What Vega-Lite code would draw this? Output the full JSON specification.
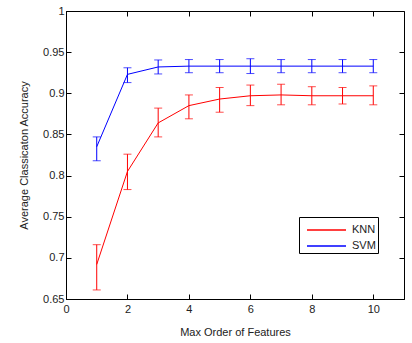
{
  "$schema": "https://vega.github.io/schema/vega-lite/v6.json",
  "width": 338,
  "height": 288,
  "autosize": {"type": "none"},
  "padding": {"left": 66, "top": 11, "right": 8, "bottom": 44},
  "background": "white",
  "config": {
    "view": {"stroke": "black", "strokeWidth": 1},
    "font": "Liberation Sans",
    "axis": {
      "labelFont": "Liberation Sans",
      "titleFont": "Liberation Sans",
      "labelFontSize": 11,
      "titleFontSize": 11,
      "titleFontWeight": "normal",
      "labelColor": "#222",
      "titleColor": "#222",
      "domainColor": "black",
      "tickColor": "black",
      "grid": false
    },
    "legend": {
      "labelFont": "Liberation Sans",
      "labelFontSize": 11,
      "labelColor": "#222"
    }
  },
  "data": {
    "values": [
      {"x": 1, "model": "KNN", "acc": 0.692, "lo": 0.661, "hi": 0.716},
      {"x": 2, "model": "KNN", "acc": 0.805, "lo": 0.783, "hi": 0.826},
      {"x": 3, "model": "KNN", "acc": 0.864, "lo": 0.847, "hi": 0.882},
      {"x": 4, "model": "KNN", "acc": 0.885, "lo": 0.869, "hi": 0.898},
      {"x": 5, "model": "KNN", "acc": 0.893, "lo": 0.877, "hi": 0.907},
      {"x": 6, "model": "KNN", "acc": 0.897, "lo": 0.885, "hi": 0.910},
      {"x": 7, "model": "KNN", "acc": 0.898, "lo": 0.886, "hi": 0.911},
      {"x": 8, "model": "KNN", "acc": 0.897, "lo": 0.886, "hi": 0.908},
      {"x": 9, "model": "KNN", "acc": 0.897, "lo": 0.887, "hi": 0.907},
      {"x": 10, "model": "KNN", "acc": 0.897, "lo": 0.886, "hi": 0.909},
      {"x": 1, "model": "SVM", "acc": 0.835, "lo": 0.818, "hi": 0.847},
      {"x": 2, "model": "SVM", "acc": 0.923, "lo": 0.913, "hi": 0.931},
      {"x": 3, "model": "SVM", "acc": 0.932, "lo": 0.9235, "hi": 0.9405},
      {"x": 4, "model": "SVM", "acc": 0.933, "lo": 0.925, "hi": 0.941},
      {"x": 5, "model": "SVM", "acc": 0.933, "lo": 0.925, "hi": 0.941},
      {"x": 6, "model": "SVM", "acc": 0.933, "lo": 0.924, "hi": 0.942},
      {"x": 7, "model": "SVM", "acc": 0.933, "lo": 0.925, "hi": 0.941},
      {"x": 8, "model": "SVM", "acc": 0.933, "lo": 0.925, "hi": 0.941},
      {"x": 9, "model": "SVM", "acc": 0.933, "lo": 0.925, "hi": 0.941},
      {"x": 10, "model": "SVM", "acc": 0.933, "lo": 0.925, "hi": 0.941}
    ]
  },
  "resolve": {"axis": {"x": "independent", "y": "independent"}},
  "layer": [
    {
      "mark": {"type": "line", "strokeWidth": 1},
      "encoding": {
        "x": {
          "field": "x", "type": "quantitative",
          "scale": {"domain": [0, 11], "nice": false, "zero": false},
          "axis": {"title": "Max Order of Features", "values": [0, 2, 4, 6, 8, 10], "tickSize": -5, "labelPadding": 9, "titlePadding": 12, "labelFlush": false}
        },
        "y": {
          "field": "acc", "type": "quantitative",
          "scale": {"domain": [0.65, 1], "nice": false, "zero": false},
          "axis": {"title": "Average Classicaton Accuracy", "values": [0.65, 0.7, 0.75, 0.8, 0.85, 0.9, 0.95, 1], "format": "~g", "tickSize": -5, "labelPadding": 7, "titlePadding": 13, "labelFlush": false}
        },
        "color": {
          "field": "model", "type": "nominal",
          "scale": {"domain": ["KNN", "SVM"], "range": ["#ff0000", "#0000ff"]},
          "legend": {
            "title": null,
            "orient": "none",
            "legendX": 233,
            "legendY": 206,
            "symbolType": "M-0.5,0H3.4",
            "symbolSize": 400,
            "symbolStrokeWidth": 1.5,
            "strokeColor": "black",
            "fillColor": "white",
            "padding": 2,
            "rowPadding": 0,
            "labelOffset": 29
          }
        }
      }
    },
    {
      "mark": {"type": "rule", "strokeWidth": 1},
      "encoding": {
        "x": {"field": "x", "type": "quantitative", "axis": {"orient": "top", "labels": false, "title": null, "values": [0, 2, 4, 6, 8, 10], "tickSize": -5, "domain": false}},
        "y": {"field": "lo", "type": "quantitative", "axis": {"orient": "right", "labels": false, "title": null, "values": [0.65, 0.7, 0.75, 0.8, 0.85, 0.9, 0.95, 1], "tickSize": -5, "domain": false}},
        "y2": {"field": "hi"},
        "color": {"field": "model", "type": "nominal", "legend": null}
      }
    },
    {
      "mark": {"type": "tick", "orient": "horizontal", "size": 8, "thickness": 1},
      "encoding": {
        "x": {"field": "x", "type": "quantitative", "axis": null},
        "y": {"field": "lo", "type": "quantitative", "axis": null},
        "color": {"field": "model", "type": "nominal", "legend": null}
      }
    },
    {
      "mark": {"type": "tick", "orient": "horizontal", "size": 8, "thickness": 1},
      "encoding": {
        "x": {"field": "x", "type": "quantitative", "axis": null},
        "y": {"field": "hi", "type": "quantitative", "axis": null},
        "color": {"field": "model", "type": "nominal", "legend": null}
      }
    }
  ]
}
